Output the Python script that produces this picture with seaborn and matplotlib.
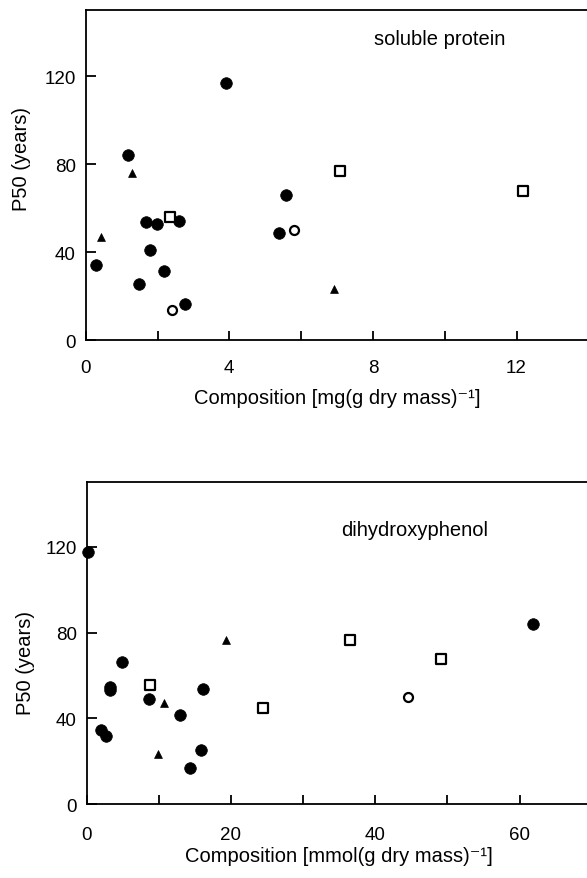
import matplotlib
matplotlib.use("Agg")
import matplotlib.pyplot as plt
import seaborn as sns
import pandas as pd

# ---- data: soluble protein panel ----
prot_fill_x = [0.29, 1.18, 3.90, 1.67, 1.99, 2.60, 1.80, 2.19, 1.48, 2.77, 5.58, 5.39]
prot_fill_y = [34.3, 83.9, 116.8, 53.5, 52.9, 54.0, 41.1, 31.4, 25.5, 16.5, 66.0, 48.7]
prot_open_x = [2.41, 5.81]
prot_open_y = [13.5, 49.9]
prot_sq_x = [2.36, 7.08, 12.18]
prot_sq_y = [55.8, 76.8, 67.6]
prot_tri_x = [0.43, 1.28, 6.91]
prot_tri_y = [46.8, 75.9, 23.3]

# ---- data: dihydroxyphenol panel ----
phen_fill_x = [0.26, 61.8, 4.86, 3.19, 3.19, 8.72, 16.2, 12.95, 1.98, 2.77, 15.8, 14.4]
phen_fill_y = [117.4, 84.0, 66.2, 54.6, 53.3, 49.1, 53.8, 41.4, 34.4, 31.6, 25.4, 16.9]
phen_open_x = [44.5]
phen_open_y = [50.2]
phen_sq_x = [8.82, 24.5, 36.5, 49.1]
phen_sq_y = [55.8, 44.8, 76.7, 67.9]
phen_tri_x = [19.3, 10.8, 9.87]
phen_tri_y = [76.4, 47.1, 23.6]

y_ticks = [0, 40, 80, 120]

sns.set_theme(style="ticks")
plt.rcParams['font.family'] = ['Liberation Sans', 'DejaVu Sans']
plt.rcParams['axes.linewidth'] = 1.3

W, H = 587, 879
fig = plt.figure(figsize=(W / 100, H / 100), dpi=100)
ax1 = fig.add_axes([85.7 / W, 1 - 341 / H, 502.6 / W, 330 / H])
ax2 = fig.add_axes([86.5 / W, 1 - 805.3 / H, 505.4 / W, 322 / H])

TICK_FS = 13.5
TXT_FS = 14.5


def draw(ax, fx, fy, ox, oy, sx, sy, tx, ty):
    sns.scatterplot(data=pd.DataFrame({"x": fx, "y": fy}), x="x", y="y", ax=ax,
                    marker="o", s=70, color="black", edgecolor="black", linewidth=0.5,
                    zorder=3, clip_on=False)
    sns.scatterplot(data=pd.DataFrame({"x": ox, "y": oy}), x="x", y="y", ax=ax,
                    marker="o", s=42, facecolor="white", edgecolor="black", linewidth=1.6,
                    zorder=3, clip_on=False)
    sns.scatterplot(data=pd.DataFrame({"x": sx, "y": sy}), x="x", y="y", ax=ax,
                    marker="s", s=55, facecolor="white", edgecolor="black", linewidth=1.6,
                    zorder=3, clip_on=False)
    sns.scatterplot(data=pd.DataFrame({"x": tx, "y": ty}), x="x", y="y", ax=ax,
                    marker="^", s=32, color="black", edgecolor="black", linewidth=0.5,
                    zorder=3, clip_on=False)
    ax.set_ylim(0, 150)
    ax.set_yticks(y_ticks)
    ax.spines['right'].set_visible(False)
    for sp in ax.spines.values():
        sp.set_color("black")
    ax.tick_params(axis='y', direction='in', length=7, width=1.3, pad=7,
                   labelsize=TICK_FS, colors='black')
    ax.tick_params(axis='x', which='both', direction='in', length=6.5, width=1.3,
                   labelsize=TICK_FS, colors='black')


draw(ax1, prot_fill_x, prot_fill_y, prot_open_x, prot_open_y,
     prot_sq_x, prot_sq_y, prot_tri_x, prot_tri_y)
ax1.set_xlim(0, 14)
ax1.set_xticks([0, 4, 8, 12])
ax1.set_xticks([2, 6, 10], minor=True)
ax1.tick_params(axis='x', pad=13.5)
ax1.set_xlabel("Composition [mg(g dry mass)\u207b\u00b9]", fontsize=TXT_FS, labelpad=9, color='black')
ax1.set_ylabel("P50 (years)", fontsize=TXT_FS, color='black')
ax1.yaxis.set_label_coords((30.5 - 85.7) / 502.6, 0.553)
ax1.text(9.87, 137.1, "soluble protein", fontsize=TXT_FS, ha='center', va='center', color='black')

draw(ax2, phen_fill_x, phen_fill_y, phen_open_x, phen_open_y,
     phen_sq_x, phen_sq_y, phen_tri_x, phen_tri_y)
ax2.set_xlim(0, 70)
ax2.set_xticks([0, 20, 40, 60])
ax2.set_xticks([10, 30, 50], minor=True)
ax2.tick_params(axis='x', pad=15.5)
ax2.set_xlabel("Composition [mmol(g dry mass)\u207b\u00b9]", fontsize=TXT_FS, labelpad=2, color='black')
ax2.set_ylabel("P50 (years)", fontsize=TXT_FS, color='black')
ax2.yaxis.set_label_coords((35.0 - 86.5) / 505.4, 0.443)
ax2.text(45.4, 128.2, "dihydroxyphenol", fontsize=TXT_FS, ha='center', va='center', color='black')

fig.savefig("out.png", dpi=100)
